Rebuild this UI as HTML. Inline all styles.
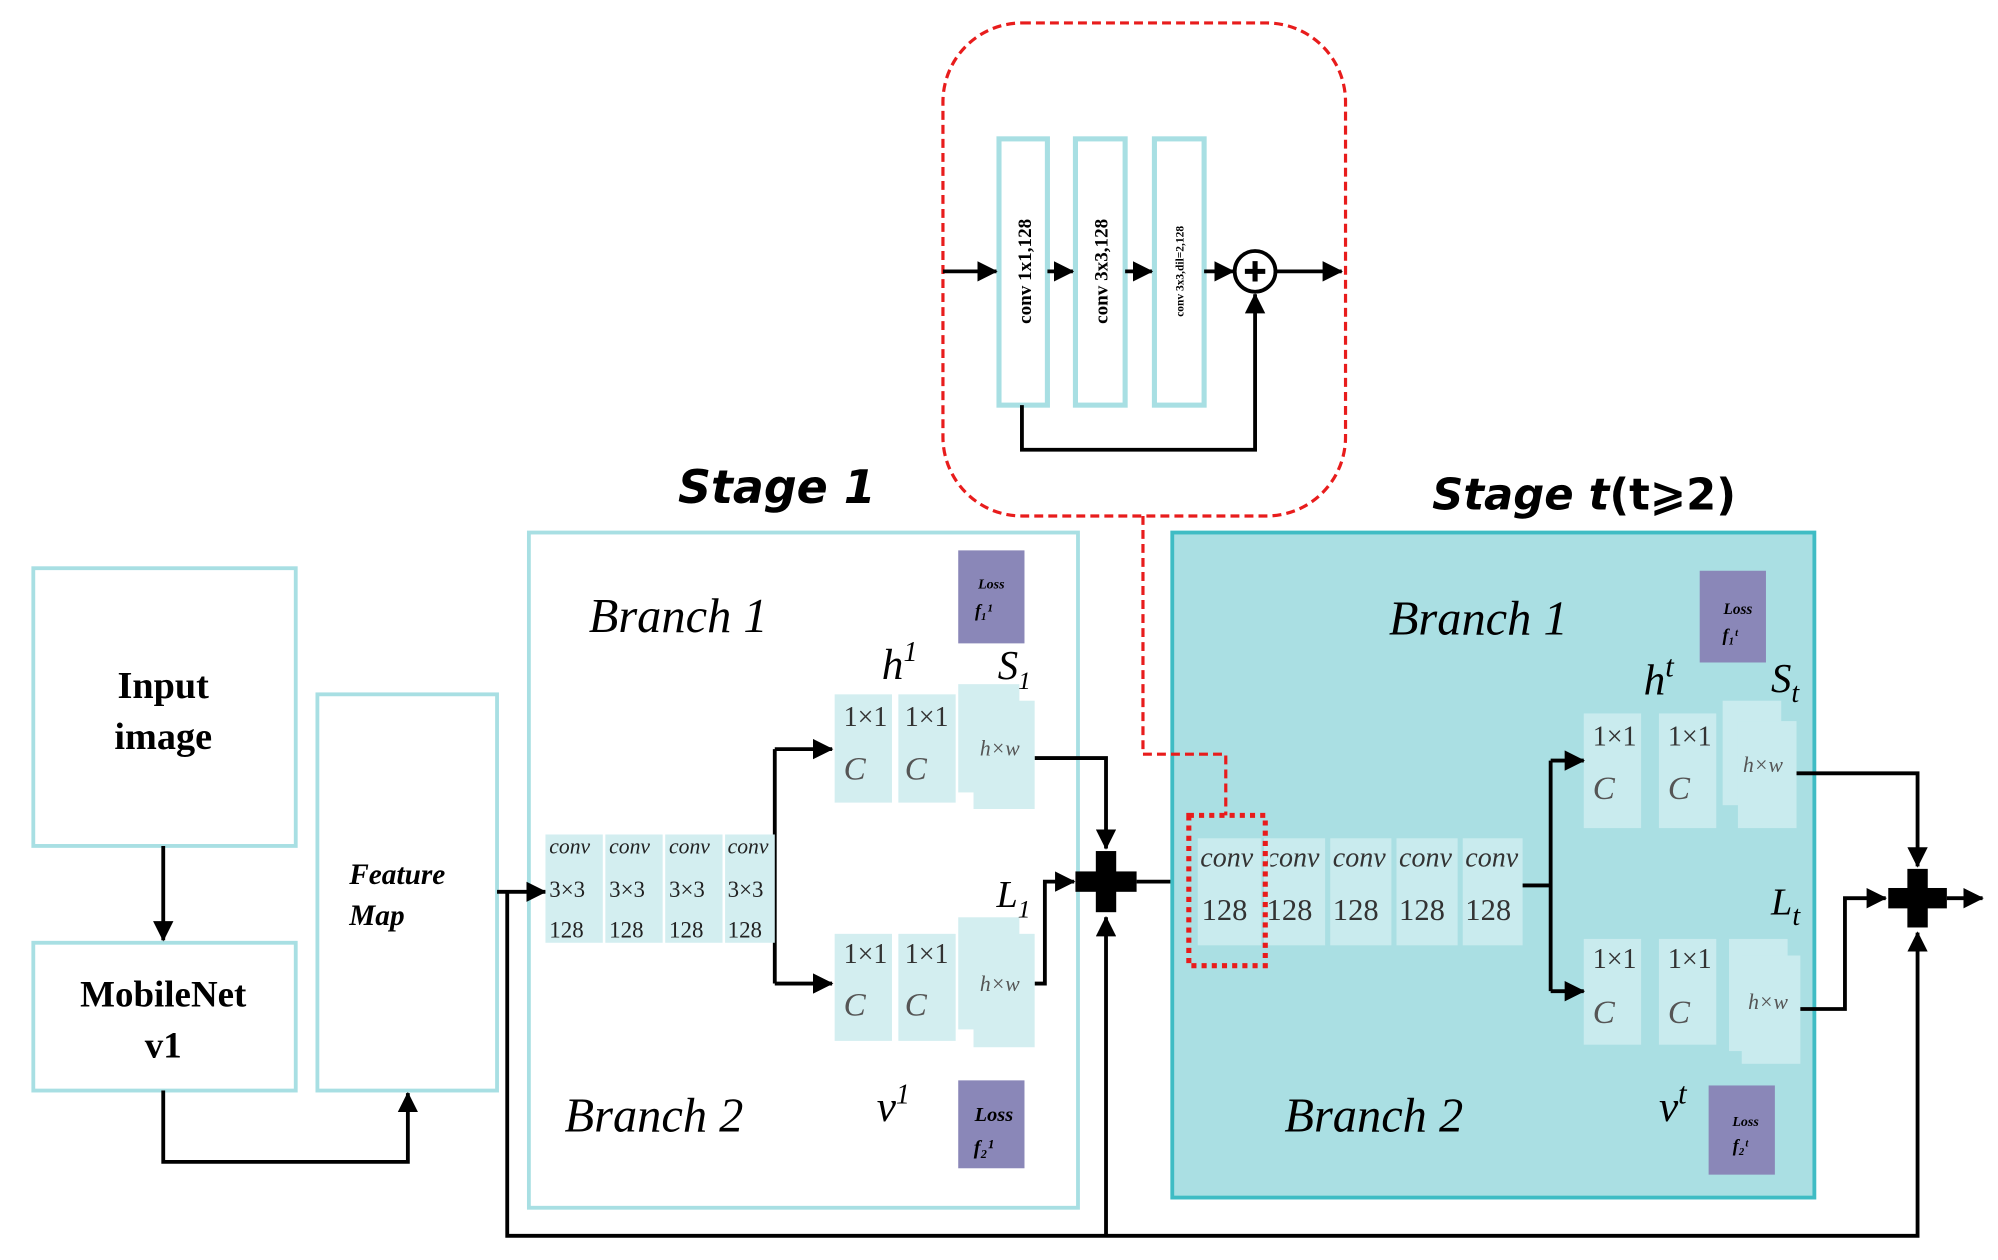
<!DOCTYPE html>
<html><head><meta charset="utf-8"><style>
html,body{margin:0;padding:0;background:#fff;}
svg{display:block;}
text{font-family:"Liberation Serif",serif;}
</style></head><body>
<svg width="1998" height="1260" viewBox="0 0 1568 989" xmlns="http://www.w3.org/2000/svg">
<defs>
<marker id="a" markerWidth="8" markerHeight="8" refX="7" refY="4" orient="auto" markerUnits="userSpaceOnUse" viewBox="0 0 8 8"><path d="M0,0 L8,4 L0,8 z" fill="#000"/></marker>
<marker id="b" markerWidth="16" markerHeight="16" refX="15" refY="8" orient="auto" markerUnits="userSpaceOnUse" viewBox="0 0 16 16"><path d="M0,0 L16,8 L0,16 z" fill="#000"/></marker>
</defs>
<rect width="1568" height="989" fill="#fff"/>

<!-- left boxes -->
<g fill="none" stroke="#a8dfe3" stroke-width="3">
<rect x="26" y="446" width="206" height="218"/>
<rect x="26" y="740" width="206" height="116"/>
<rect x="249" y="545" width="141" height="311"/>
<rect x="415" y="418" width="431" height="530"/>
</g>
<text x="128" y="548" font-size="30" font-weight="bold" text-anchor="middle">Input</text>
<text x="128" y="588" font-size="30" font-weight="bold" text-anchor="middle">image</text>
<text x="128" y="790" font-size="29" font-weight="bold" text-anchor="middle">MobileNet</text>
<text x="128" y="830" font-size="29" font-weight="bold" text-anchor="middle">v1</text>
<text x="274" y="694" font-size="23" font-weight="bold" font-style="italic">Feature</text>
<text x="274" y="726" font-size="23" font-weight="bold" font-style="italic">Map</text>

<g stroke="#000" stroke-width="3" fill="none">
<path d="M128,664 V738" marker-end="url(#b)"/>
<path d="M128,856 V912 H320 V858" marker-end="url(#b)"/>
<path d="M390,700 H428" marker-end="url(#b)"/>
<path d="M398,700 V970 H1505 V732" marker-end="url(#b)"/>
<path d="M868,970 V720" marker-end="url(#b)"/>
<path d="M608,695 H608"/>
<path d="M608,588 V772"/>
<path d="M608,588 H653" marker-end="url(#b)"/>
<path d="M608,772 H653" marker-end="url(#b)"/>
<path d="M812,595 H868 V666" marker-end="url(#b)"/>
<path d="M812,772 H820 V692 H843" marker-end="url(#b)"/>
<path d="M892,692 H935" marker-end="url(#b)"/>
</g>

<!-- Stage 1 -->
<text x="532" y="395" font-size="36" font-weight="bold" font-style="italic" font-family="DejaVu Sans, sans-serif" style="font-family:'DejaVu Sans',sans-serif">Stage 1</text>
<text x="462" y="496" font-size="38" font-style="italic">Branch 1</text>
<text x="443" y="888" font-size="38" font-style="italic">Branch 2</text>
<rect x="752" y="432" width="52" height="73" fill="#8a87b8"/>
<text x="778" y="462" font-size="11" font-style="italic" font-weight="bold" text-anchor="middle">Loss</text>
<text x="772" y="484" font-size="14" font-style="italic" font-weight="bold" text-anchor="middle">f₁¹</text>
<rect x="752" y="848" width="52" height="69" fill="#8a87b8"/>
<text x="780" y="880" font-size="16" font-style="italic" font-weight="bold" text-anchor="middle">Loss</text>
<text x="772" y="906" font-size="16" font-style="italic" font-weight="bold" text-anchor="middle">f₂¹</text>

<!-- conv strip stage1 -->
<g fill="#d3eef0">
<rect x="428" y="655" width="45" height="85"/><rect x="475" y="655" width="45" height="85"/>
<rect x="522" y="655" width="45" height="85"/><rect x="569" y="655" width="39" height="85"/>
</g>
<g font-size="17" font-style="italic" fill="#222">
<text x="431" y="670">conv</text><text x="478" y="670">conv</text><text x="525" y="670">conv</text><text x="571" y="670">conv</text>
</g>
<g font-size="18" fill="#222">
<text x="431" y="704">3×3</text><text x="478" y="704">3×3</text><text x="525" y="704">3×3</text><text x="571" y="704">3×3</text>
<text x="431" y="736">128</text><text x="478" y="736">128</text><text x="525" y="736">128</text><text x="571" y="736">128</text>
</g>

<!-- 1x1 C stage 1 -->
<g fill="#d3eef0">
<rect x="655" y="545" width="45" height="85"/><rect x="705" y="545" width="45" height="85"/>
<rect x="655" y="733" width="45" height="84"/><rect x="705" y="733" width="45" height="84"/>
<rect x="752" y="537" width="48" height="85"/><rect x="764" y="550" width="48" height="85"/>
<rect x="752" y="720" width="48" height="88"/><rect x="764" y="733" width="48" height="89"/>
</g>
<g font-size="22" fill="#333">
<text x="662" y="570">1×1</text><text x="710" y="570">1×1</text>
<text x="662" y="756">1×1</text><text x="710" y="756">1×1</text>
</g>
<g font-size="26" font-style="italic" fill="#555">
<text x="662" y="612">C</text><text x="710" y="612">C</text>
<text x="662" y="797">C</text><text x="710" y="797">C</text>
</g>
<text x="769" y="593" font-size="17" font-style="italic" fill="#555">h×w</text>
<text x="769" y="778" font-size="17" font-style="italic" fill="#555">h×w</text>
<text x="692" y="533" font-size="34" font-style="italic">h<tspan font-size="22" dy="-14">1</tspan></text>
<text x="783" y="533" font-size="32" font-style="italic">S<tspan font-size="20" dy="8">1</tspan></text>
<text x="782" y="712" font-size="30" font-style="italic">L<tspan font-size="20" dy="8">1</tspan></text>
<text x="688" y="880" font-size="34" font-style="italic">ν<tspan font-size="22" dy="-14">1</tspan></text>

<!-- plus 1 -->
<g fill="#000"><rect x="844" y="684" width="48" height="16"/><rect x="860" y="668" width="16" height="48"/></g>

<!-- Stage t -->
<rect x="920" y="418" width="504" height="522" fill="#aadfe3" stroke="#3fbcc4" stroke-width="3"/>
<text x="1124" y="400" font-size="34" font-weight="bold" style="font-family:'DejaVu Sans',sans-serif"><tspan font-style="italic">Stage t</tspan>(t⩾2)</text>
<text x="1090" y="498" font-size="38" font-style="italic">Branch 1</text>
<text x="1008" y="888" font-size="38" font-style="italic">Branch 2</text>
<rect x="1334" y="448" width="52" height="72" fill="#8a87b8"/>
<text x="1364" y="482" font-size="12" font-style="italic" font-weight="bold" text-anchor="middle">Loss</text>
<text x="1358" y="503" font-size="14" font-style="italic" font-weight="bold" text-anchor="middle">f₁ᵗ</text>
<rect x="1341" y="852" width="52" height="70" fill="#8a87b8"/>
<text x="1370" y="884" font-size="11" font-style="italic" font-weight="bold" text-anchor="middle">Loss</text>
<text x="1366" y="904" font-size="14" font-style="italic" font-weight="bold" text-anchor="middle">f₂ᵗ</text>

<g fill="#c9ebee">
<rect x="940" y="658" width="50" height="84"/><rect x="992" y="658" width="48" height="84"/>
<rect x="1044" y="658" width="48" height="84"/><rect x="1096" y="658" width="48" height="84"/>
<rect x="1148" y="658" width="47" height="84"/>
</g>
<g font-size="22" font-style="italic" fill="#333">
<text x="942" y="680">conv</text><text x="994" y="680">conv</text><text x="1046" y="680">conv</text><text x="1098" y="680">conv</text><text x="1150" y="680">conv</text>
</g>
<rect x="995" y="658" width="2" height="30" fill="#c9ebee"/>
<g font-size="24" fill="#333">
<text x="943" y="722">128</text><text x="994" y="722">128</text><text x="1046" y="722">128</text><text x="1098" y="722">128</text><text x="1150" y="722">128</text>
</g>
<rect x="933" y="640" width="60" height="118" fill="none" stroke="#e81c1c" stroke-width="4" stroke-dasharray="4,4"/>

<g fill="#c9ebee">
<rect x="1243" y="560" width="45" height="90"/><rect x="1302" y="560" width="45" height="90"/>
<rect x="1243" y="737" width="45" height="83"/><rect x="1302" y="737" width="45" height="83"/>
<rect x="1352" y="550" width="46" height="82"/><rect x="1364" y="566" width="46" height="84"/>
<rect x="1357" y="737" width="46" height="88"/><rect x="1367" y="750" width="46" height="85"/>
</g>
<g font-size="22" fill="#333">
<text x="1250" y="585">1×1</text><text x="1309" y="585">1×1</text>
<text x="1250" y="760">1×1</text><text x="1309" y="760">1×1</text>
</g>
<g font-size="26" font-style="italic" fill="#555">
<text x="1250" y="627">C</text><text x="1309" y="627">C</text>
<text x="1250" y="803">C</text><text x="1309" y="803">C</text>
</g>
<text x="1368" y="606" font-size="17" font-style="italic" fill="#555">h×w</text>
<text x="1372" y="792" font-size="17" font-style="italic" fill="#555">h×w</text>
<text x="1290" y="545" font-size="34" font-style="italic">h<tspan font-size="24" dy="-14">t</tspan></text>
<text x="1390" y="543" font-size="32" font-style="italic">S<tspan font-size="22" dy="8">t</tspan></text>
<text x="1390" y="718" font-size="30" font-style="italic">L<tspan font-size="22" dy="8">t</tspan></text>
<text x="1302" y="880" font-size="34" font-style="italic">ν<tspan font-size="24" dy="-14">t</tspan></text>

<g stroke="#000" stroke-width="3" fill="none">
<path d="M1195,695 H1217"/>
<path d="M1217,597 V778"/>
<path d="M1217,597 H1243" marker-end="url(#b)"/>
<path d="M1217,778 H1243" marker-end="url(#b)"/>
<path d="M1410,607 H1505 V680" marker-end="url(#b)"/>
<path d="M1413,792 H1448 V705 H1480" marker-end="url(#b)"/>
<path d="M1528,705 H1556" marker-end="url(#b)"/>
</g>
<g fill="#000"><rect x="1482" y="697" width="46" height="16"/><rect x="1497" y="682" width="16" height="46"/></g>

<!-- red dashed callout -->
<rect x="740" y="18" width="316" height="387" rx="62" fill="none" stroke="#e81c1c" stroke-width="2.5" stroke-dasharray="7,4"/>
<path d="M897,405 V592 H962 V640" fill="none" stroke="#e81c1c" stroke-width="2.5" stroke-dasharray="7,4"/>
<g fill="#fff" stroke="#a8dfe3" stroke-width="4">
<rect x="784" y="109" width="38" height="209"/>
<rect x="844" y="109" width="39" height="209"/>
<rect x="906" y="109" width="39" height="209"/>
</g>
<text transform="translate(809,213) rotate(-90)" font-size="15" font-weight="bold" text-anchor="middle">conv 1x1,128</text>
<text transform="translate(869,213) rotate(-90)" font-size="15" font-weight="bold" text-anchor="middle">conv 3x3,128</text>
<text transform="translate(929,213) rotate(-90)" font-size="9" font-weight="bold" text-anchor="middle">conv 3x3,dil=2,128</text>
<g stroke="#000" stroke-width="3" fill="none">
<path d="M740,213 H782" marker-end="url(#b)"/>
<path d="M822,213 H842" marker-end="url(#b)"/>
<path d="M883,213 H904" marker-end="url(#b)"/>
<path d="M945,213 H968" marker-end="url(#b)"/>
<circle cx="985" cy="213" r="16"/>
<path d="M1001,213 H1053" marker-end="url(#b)"/>
<path d="M802,318 V353 H985 V231" marker-end="url(#b)"/>
<path d="M977,213 H993 M985,205 V221" stroke-width="4"/>
</g>
</svg>
</body></html>
